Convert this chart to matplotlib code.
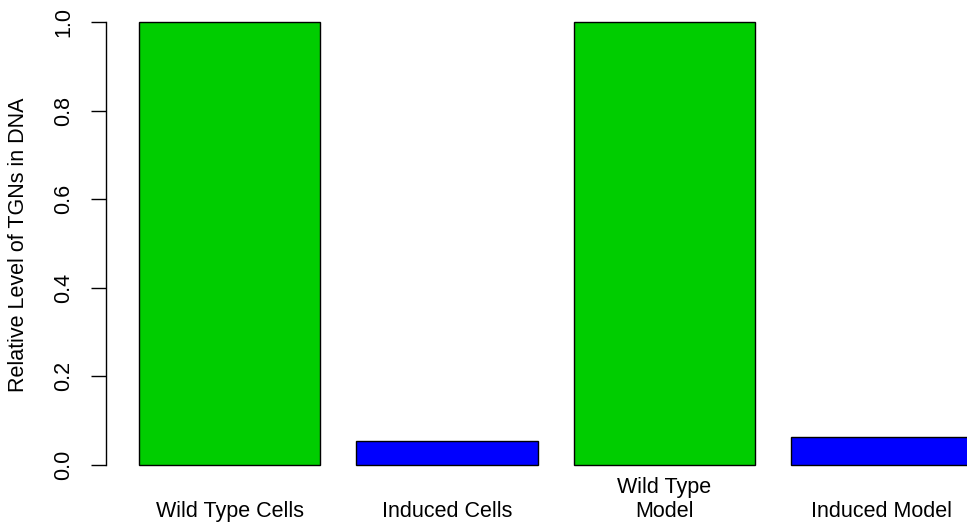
import matplotlib.pyplot as plt
from matplotlib.transforms import blended_transform_factory

plt.rcParams['font.family'] = ['Liberation Sans', 'DejaVu Sans']

# Data
categories = ["Wild Type Cells", "Induced Cells", "Wild Type\nModel", "Induced Model"]
values = [1.0, 0.055, 1.0, 0.064]
colors = ["#00CD00", "#0000FF", "#00CD00", "#0000FF"]
yticks = [0.0, 0.2, 0.4, 0.6, 0.8, 1.0]

W, H = 967, 528
fs = 15.5
fig = plt.figure(figsize=(W / 100, H / 100), dpi=100)
# plot region in pixels (R style barplot)
left, right, top, bottom = 106, 967, 4.3, 482.7
ax = fig.add_axes([left / W, 1 - bottom / H, (right - left) / W, (bottom - top) / H])

# R barplot layout: width 1, space 0.2
centers = [0.7 + 1.2 * i for i in range(len(values))]
ax.bar(centers, values, width=1.0, color=colors, edgecolor="black", linewidth=1.0)

ax.set_xlim(0.018, 4.77)
ax.set_ylim(-0.04, 1.04)

for s in ["top", "right", "bottom"]:
    ax.spines[s].set_visible(False)
ax.spines["left"].set_bounds(0, 1)
ax.spines["left"].set_linewidth(1.0)

ax.set_xticks([])
ax.set_yticks(yticks)
ax.set_yticklabels([f"{v:.1f}" for v in yticks], rotation=90, va="center", fontsize=fs)
ax.tick_params(axis="y", length=11, width=1.0, pad=12, colors="black")

fig.text(19 / W, 1 - 245 / H, "Relative Level of TGNs in DNA", rotation=90,
         ha="center", va="center", fontsize=fs)

trans = blended_transform_factory(ax.transData, fig.transFigure)
for c, lab in zip(centers, categories):
    ax.text(c, 1 - 517 / H, lab, transform=trans, ha="center", va="baseline",
            fontsize=fs, linespacing=1.2, clip_on=False)

fig.savefig("out.png", dpi=100)
